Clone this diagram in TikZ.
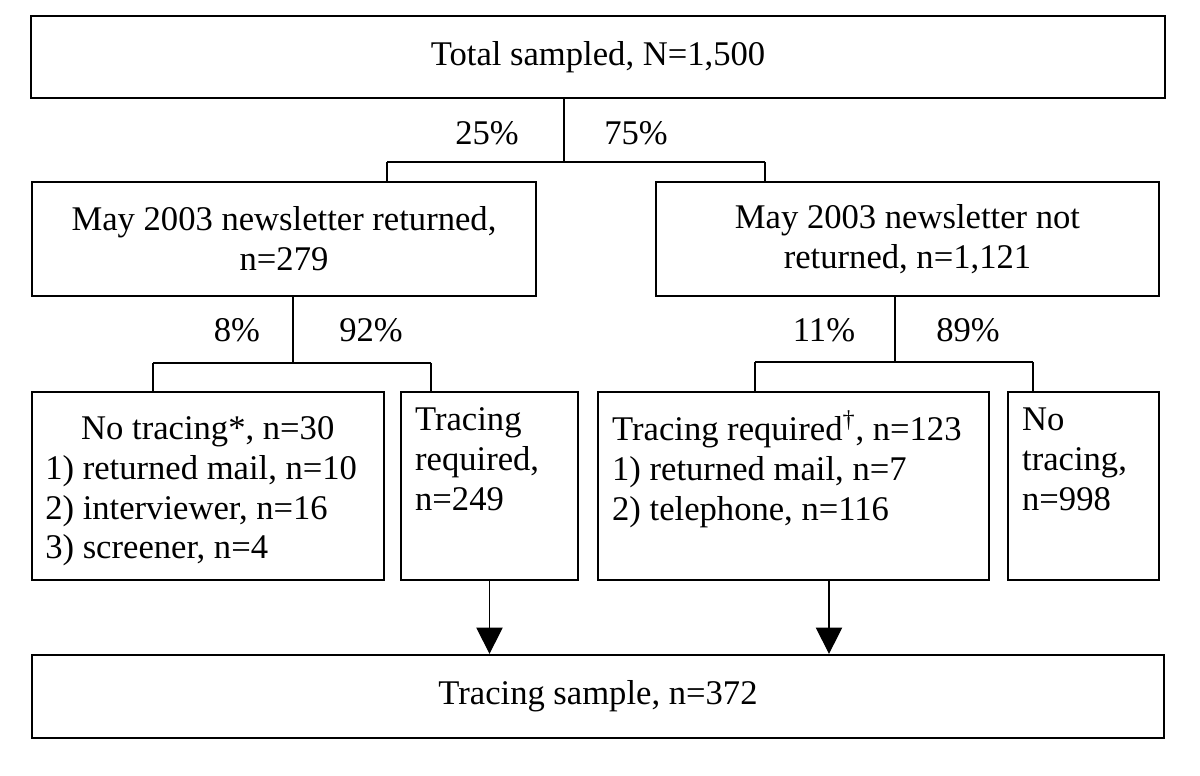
\documentclass[tikz,border=0pt]{standalone}
\usepackage{fontspec}
\setmainfont{Liberation Serif}
\usetikzlibrary{arrows.meta}

\begin{document}
\begin{tikzpicture}[x=0.02cm, y=-0.02cm,
	font=\fontsize{19.7}{22.7}\selectfont,
	box/.style={shape=rectangle, draw=black, line width=1.3pt, inner sep=0pt},
	inbox/.style={anchor=north west, align=left, inner sep=0pt, xshift=8.5pt, yshift=-9.5pt},
	line/.style={-, line width=1pt},
	arrow/.style={-{Triangle[width=15pt,length=15pt]}, line width=0.7pt},
	pct/.style={inner sep=0pt}]
	\useasboundingbox (0,0) rectangle (1200,776);

	\node[box, minimum width=22.68cm, minimum height=1.64cm] (total)   at (598,57)    {Total sampled, N=1,500};
	\node[box, minimum width=10.08cm, minimum height=2.28cm, align=center] (ret)    at (284,239)   {May 2003 newsletter returned,\\n=279};
	\node[box, minimum width=10.06cm, minimum height=2.28cm, align=center] (notret) at (907.5,239) {May 2003 newsletter not\\returned, n=1,121};

	\node[box, minimum width=7.04cm, minimum height=3.76cm,
		label={[inbox, xshift=-0.5pt, yshift=-2pt]north west:{\begin{tabular}{@{}l@{}}
			\multicolumn{1}{@{}c@{}}{\hspace*{7.5pt}No tracing*, n=30}\\
			1) returned mail, n=10\\2) interviewer, n=16\\3) screener, n=4\end{tabular}}}] (notraceA) at (208,486) {};
	\node[box, minimum width=3.54cm, minimum height=3.76cm,
		label={[inbox]north west:{Tracing\\required,\\n=249}}] (traceA) at (489.5,486) {};
	\node[box, minimum width=7.82cm, minimum height=3.76cm,
		label={[inbox, yshift=-5pt]north west:{Tracing required\smash{\textsuperscript{\textdagger}}, n=123\\
			1) returned mail, n=7\\2) telephone, n=116}}] (traceB) at (793.5,486) {};
	\node[box, minimum width=3.02cm, minimum height=3.76cm,
		label={[inbox]north west:{No\\tracing,\\n=998}}] (notraceB) at (1083.5,486) {};

	\node[box, minimum width=22.64cm, minimum height=1.66cm] (sample) at (598,696.5) {Tracing sample, n=372};

	% splits
	\coordinate (s1)  at (564,162);
	\coordinate (s1l) at (387,162);
	\coordinate (s1r) at (765,162);
	\coordinate (s2)  at (293,363);
	\coordinate (s2l) at (153,363);
	\coordinate (s2r) at (431,363);
	\coordinate (s3)  at (895,362);
	\coordinate (s3l) at (755,362);
	\coordinate (s3r) at (1033,362);
	\coordinate (a2)  at (829,600);

	\path [line] (total.south -| s1) edge (s1);
	\path [line] (s1l |- ret.north) edge (s1l);
	\path [line] (s1l) edge (s1r);
	\path [line] (s1r) edge (s1r |- notret.north);

	\path [line] (ret.south -| s2) edge (s2);
	\path [line] (s2l |- notraceA.north) edge (s2l);
	\path [line] (s2l) edge (s2r);
	\path [line] (s2r) edge (s2r |- traceA.north);

	\path [line] (notret.south -| s3) edge (s3);
	\path [line] (s3l |- traceB.north) edge (s3l);
	\path [line] (s3l) edge (s3r);
	\path [line] (s3r) edge (s3r |- notraceB.north);

	\draw [arrow] (traceA.south) -- (traceA.south |- sample.north);
	\draw [arrow] (traceB.south -| a2) -- (sample.north -| a2);

	\node[pct] (p25) at (487,133) {25\%};
	\node[pct] (p75) at (636,133) {75\%};
	\node[pct] (p8)  at (237,330) {8\%};
	\node[pct] (p92) at (371,330) {92\%};
	\node[pct] (p11) at (824,330) {11\%};
	\node[pct] (p89) at (968,330) {89\%};
\end{tikzpicture}
\end{document}
